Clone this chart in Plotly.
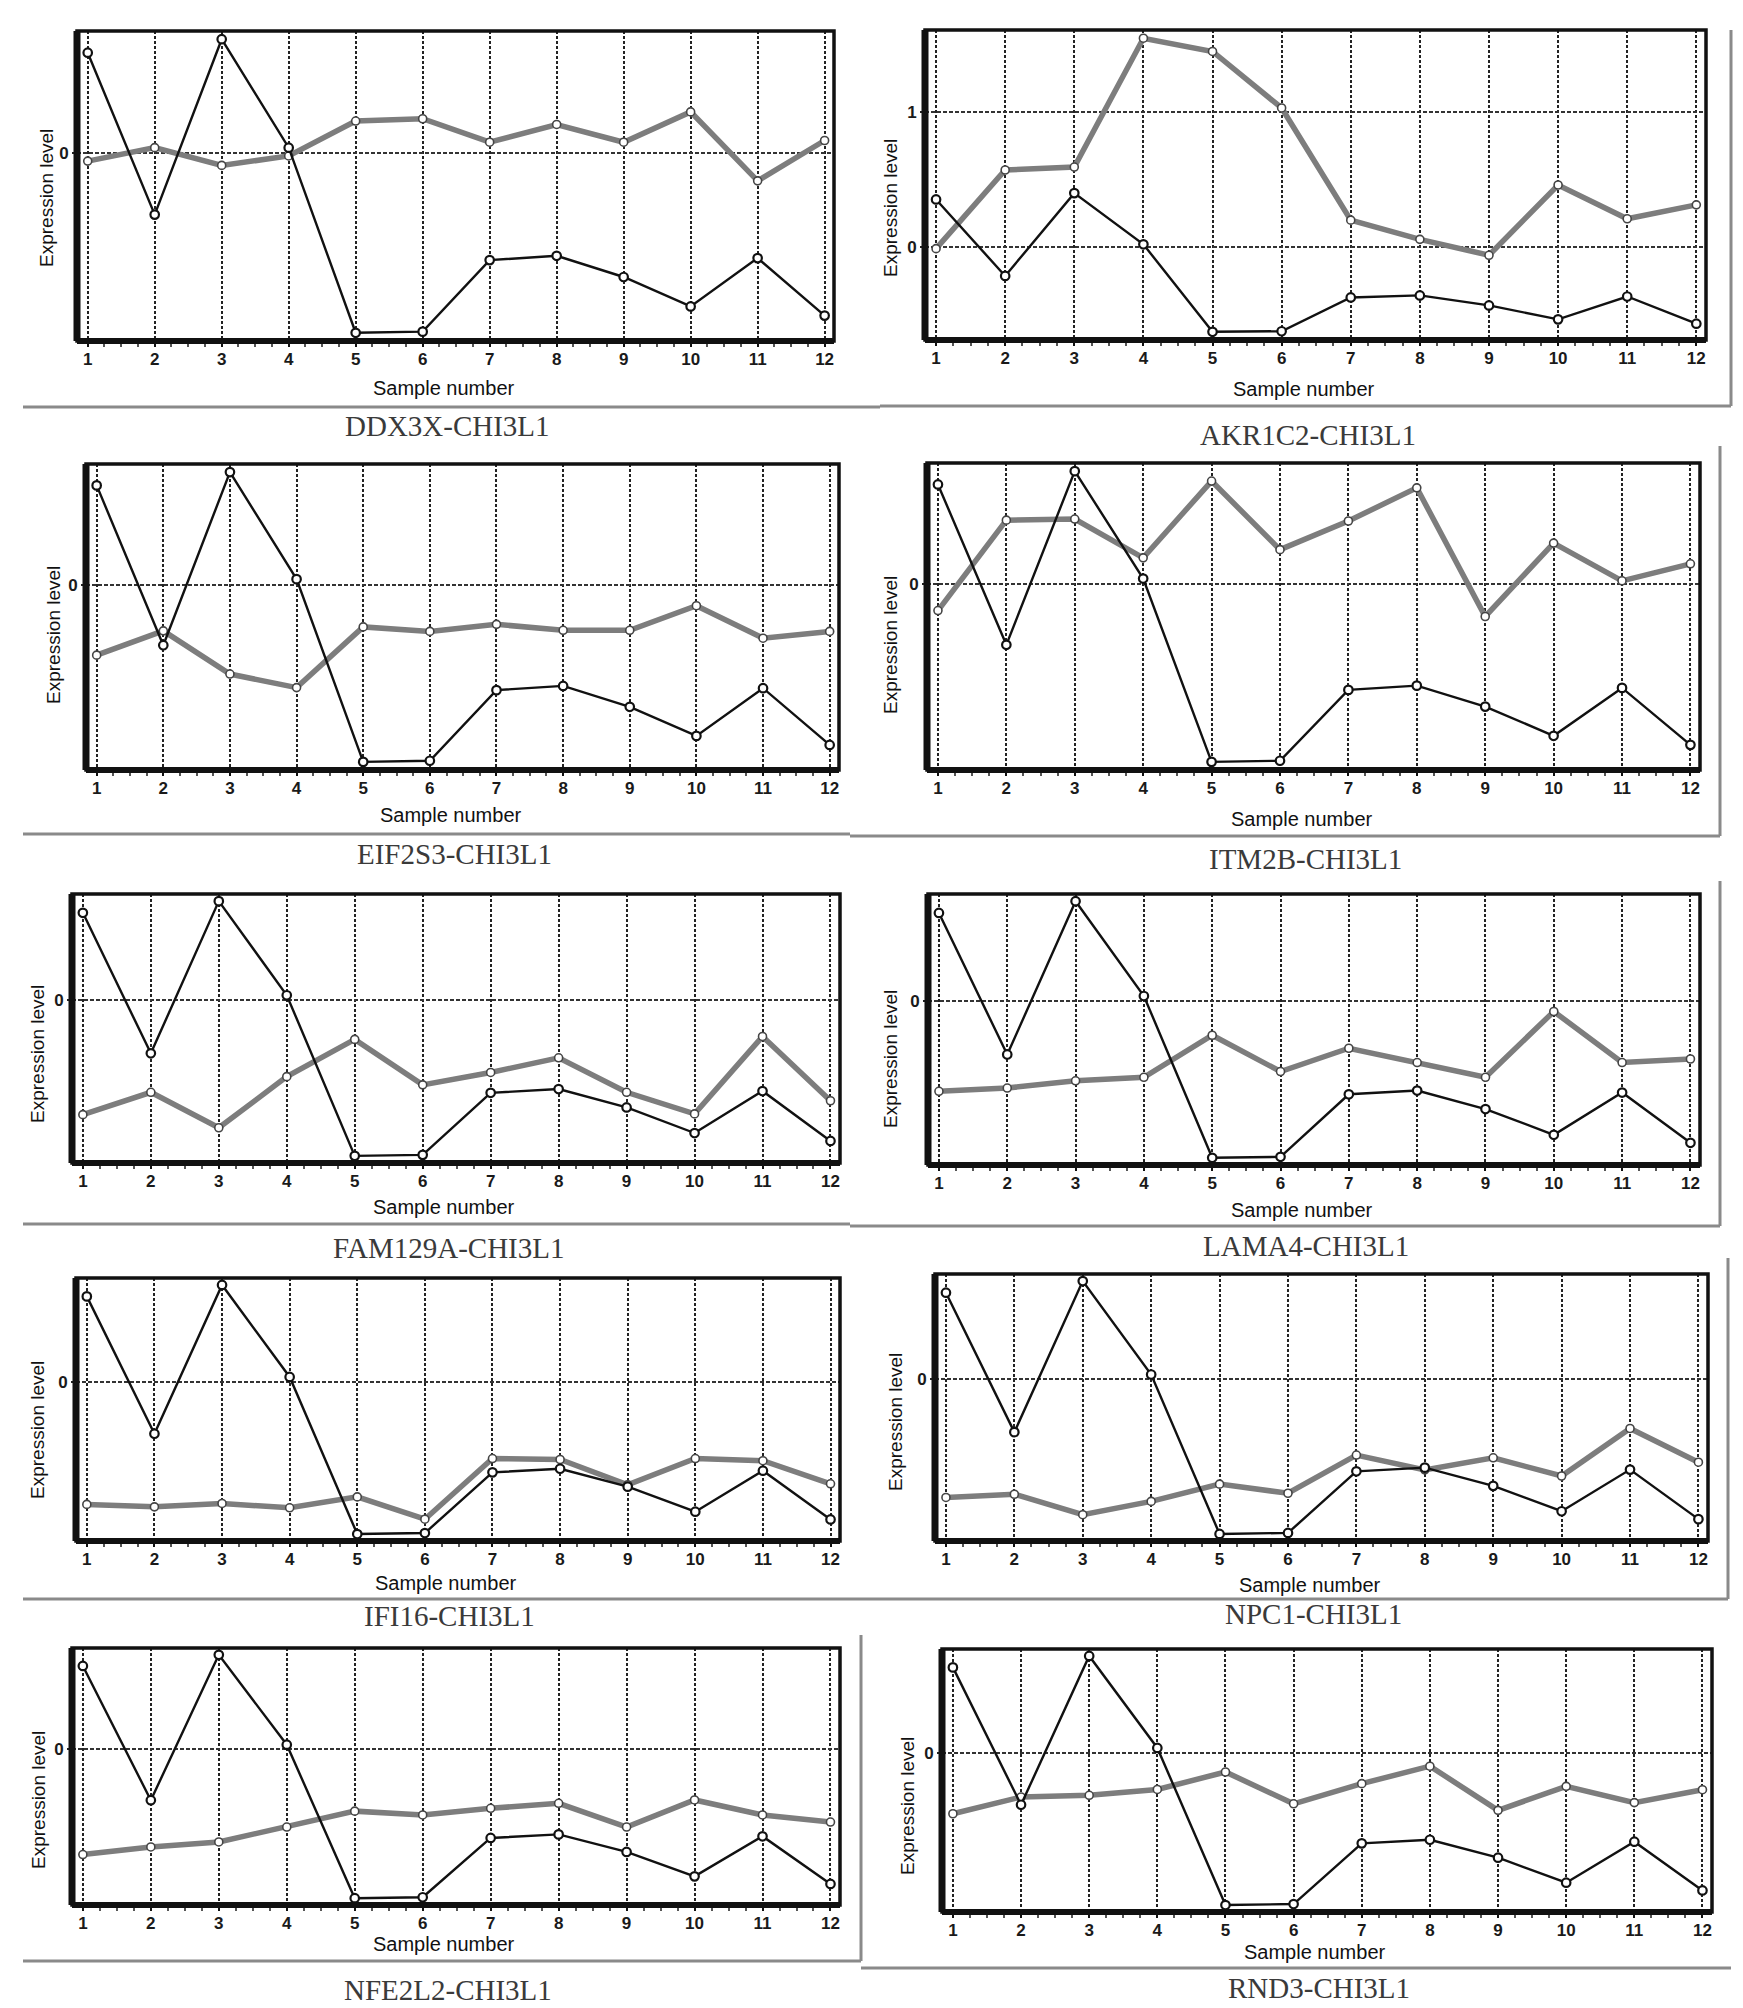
import plotly.graph_objects as go

# ---------------- data ----------------
samples = list(range(1, 13))

chi3l1 = [0.352, -0.214, 0.399, 0.020, -0.627, -0.623, -0.373, -0.358, -0.432, -0.535, -0.366, -0.567]

panel_titles = ["DDX3X-CHI3L1", "AKR1C2-CHI3L1", "EIF2S3-CHI3L1", "ITM2B-CHI3L1",
                "FAM129A-CHI3L1", "LAMA4-CHI3L1", "IFI16-CHI3L1", "NPC1-CHI3L1",
                "NFE2L2-CHI3L1", "RND3-CHI3L1"]

ddx3x = [-0.027, 0.020, -0.042, -0.009, 0.113, 0.121, 0.039, 0.101, 0.039, 0.145, -0.096, 0.045]
akr1c2 = [-0.012, 0.570, 0.592, 1.545, 1.447, 1.029, 0.199, 0.057, -0.061, 0.459, 0.209, 0.312]
eif2s3 = [-0.249, -0.163, -0.316, -0.364, -0.149, -0.165, -0.140, -0.161, -0.161, -0.074, -0.189, -0.165]
itm2b = [-0.093, 0.226, 0.230, 0.093, 0.364, 0.122, 0.223, 0.340, -0.114, 0.145, 0.012, 0.072]
fam129a = [-0.461, -0.371, -0.514, -0.308, -0.158, -0.341, -0.291, -0.232, -0.371, -0.458, -0.146, -0.405]
lama4 = [-0.361, -0.348, -0.319, -0.305, -0.137, -0.282, -0.189, -0.246, -0.305, -0.042, -0.246, -0.232]
ifi16 = [-0.505, -0.515, -0.501, -0.519, -0.474, -0.566, -0.316, -0.320, -0.424, -0.316, -0.325, -0.420]
npc1 = [-0.479, -0.466, -0.549, -0.495, -0.425, -0.462, -0.307, -0.367, -0.318, -0.392, -0.199, -0.336]
nfe2l2 = [-0.443, -0.411, -0.390, -0.327, -0.260, -0.276, -0.248, -0.227, -0.327, -0.213, -0.276, -0.306]
rnd3 = [-0.251, -0.182, -0.175, -0.151, -0.079, -0.210, -0.127, -0.055, -0.237, -0.138, -0.205, -0.152]

gene_values = [ddx3x, akr1c2, eif2s3, itm2b, fam129a, lama4, ifi16, npc1, nfe2l2, rnd3]
y_tick_values = [[0], [0, 1], [0], [0], [0], [0], [0], [0], [0], [0]]

x_label = "Sample number"
y_label = "Expression level"

# ---------------- layout (pixels) ----------------
W, H = 1743, 2008
# plot boxes: left, right, top, bottom
boxes = [
    (69, 826, 23, 333), (917, 1698, 22, 332),
    (78, 831, 456, 762), (919, 1692, 455, 762),
    (64, 832, 886, 1155), (920, 1692, 886, 1157),
    (68, 832, 1270, 1533), (927, 1700, 1266, 1533),
    (64, 832, 1640, 1897), (934, 1704, 1641, 1904),
]
xtitle_y = [380, 381, 807, 811, 1199, 1202, 1575, 1577, 1936, 1944]
title_y = [418, 427, 846, 851, 1240, 1238, 1608, 1606, 1982, 1980]
ytitle_pos = [(38, 190), (882, 200), (45, 627), (882, 637), (29, 1046),
              (882, 1051), (29, 1422), (887, 1414), (30, 1792), (899, 1798)]

def px(x):
    return x / W

def py(y):
    return 1 - y / H

fig = go.Figure()
shapes = []
annotations = []
layout_axes = {}

for i, (title, vals) in enumerate(zip(panel_titles, gene_values)):
    k = i + 1
    xs = "x" if k == 1 else f"x{k}"
    ys = "y" if k == 1 else f"y{k}"
    xname = "xaxis" if k == 1 else f"xaxis{k}"
    yname = "yaxis" if k == 1 else f"yaxis{k}"

    fig.add_trace(go.Scatter(
        x=samples, y=vals, mode="lines+markers", xaxis=xs, yaxis=ys,
        line=dict(color="#7d7d7d", width=5.5),
        marker=dict(symbol="circle", size=8, color="white",
                    line=dict(color="#454545", width=1.6)),
        showlegend=False, hoverinfo="skip"))
    fig.add_trace(go.Scatter(
        x=samples, y=chi3l1, mode="lines+markers", xaxis=xs, yaxis=ys,
        line=dict(color="#111111", width=2.4),
        marker=dict(symbol="circle", size=8.5, color="white",
                    line=dict(color="#111111", width=2.2)),
        showlegend=False, hoverinfo="skip"))

    l, r, t, b = boxes[i]
    allv = list(vals) + list(chi3l1)
    lo, hi = min(allv), max(allv)
    pad = 0.028 * (hi - lo)

    layout_axes[xname] = dict(
        domain=[px(l), px(r)], anchor=ys, range=[0.84, 12.14],
        tickmode="linear", tick0=1, dtick=1,
        ticks="outside", ticklen=5, tickwidth=2, tickcolor="#111",
        ticklabelstandoff=-2,
        showgrid=True, gridcolor="#222", gridwidth=1.6, griddash="3px,2px",
        zeroline=False, showline=False,
        tickfont=dict(family="Liberation Sans", size=17, color="#1a1a1a", weight="bold"),
        minor=dict(tickmode="linear", tick0=1, dtick=0.25, ticks="outside",
                   ticklen=5, tickwidth=2, tickcolor="#555", showgrid=False),
        fixedrange=True)
    layout_axes[yname] = dict(
        domain=[py(b), py(t)], anchor=xs, range=[lo - pad, hi + pad],
        tickmode="array", tickvals=y_tick_values[i],
        ticks="outside", ticklen=4, tickwidth=1.5, tickcolor="#222",
        showgrid=True, gridcolor="#333", gridwidth=2, griddash="4px,2px",
        zeroline=False, showline=False,
        tickfont=dict(family="Liberation Sans", size=17, color="#1a1a1a", weight="bold"),
        fixedrange=True)

    dx = f"{xs} domain"
    dy = f"{ys} domain"
    shapes.append(dict(type="rect", xref=dx, yref=dy, x0=0, x1=1, y0=0, y1=1,
                       line=dict(color="#111", width=3.5), layer="above"))
    shapes.append(dict(type="line", xref=dx, yref=dy, x0=0, x1=0, y0=0, y1=1,
                       line=dict(color="#111", width=7), layer="above"))
    shapes.append(dict(type="line", xref=dx, yref=dy, x0=0, x1=1, y0=0, y1=0,
                       line=dict(color="#111", width=6), layer="above"))

    cx = (l + r) / 2
    annotations.append(dict(text=title, xref="paper", yref="paper",
                            x=px(cx - 8), y=py(title_y[i]), showarrow=False,
                            xanchor="center", yanchor="middle",
                            font=dict(family="Liberation Serif", size=29, color="#3a3a3a")))
    annotations.append(dict(text=x_label, xref="paper", yref="paper",
                            x=px(cx - 12), y=py(xtitle_y[i]), showarrow=False,
                            xanchor="center", yanchor="middle",
                            font=dict(family="Liberation Sans", size=20, color="#111")))
    yx, yy = ytitle_pos[i]
    annotations.append(dict(text=y_label, xref="paper", yref="paper",
                            x=px(yx), y=py(yy), showarrow=False, textangle=-90,
                            xanchor="center", yanchor="middle",
                            font=dict(family="Liberation Sans", size=19, color="#111")))

# separator / frame lines (gray)
sep_h = [(15, 872, 399), (872, 1723, 398),
         (15, 842, 826), (842, 1712, 828),
         (15, 842, 1216), (842, 1712, 1218),
         (15, 872, 1591), (872, 1720, 1591),
         (15, 853, 1953), (853, 1723, 1960)]
sep_v = [(1723, 22, 398), (1712, 438, 828), (1712, 873, 1218),
         (1720, 1250, 1591), (853, 1627, 1953)]
for x0, x1, y in sep_h:
    shapes.append(dict(type="line", xref="paper", yref="paper",
                       x0=px(x0), x1=px(x1), y0=py(y), y1=py(y),
                       line=dict(color="#8a8a8a", width=3)))
for x, y0, y1 in sep_v:
    shapes.append(dict(type="line", xref="paper", yref="paper",
                       x0=px(x), x1=px(x), y0=py(y0), y1=py(y1),
                       line=dict(color="#8a8a8a", width=3)))

fig.update_layout(
    width=W, height=H, margin=dict(l=0, r=0, t=0, b=0),
    paper_bgcolor="white", plot_bgcolor="white",
    shapes=shapes, annotations=annotations, **layout_axes)

fig.write_html("out.html")
